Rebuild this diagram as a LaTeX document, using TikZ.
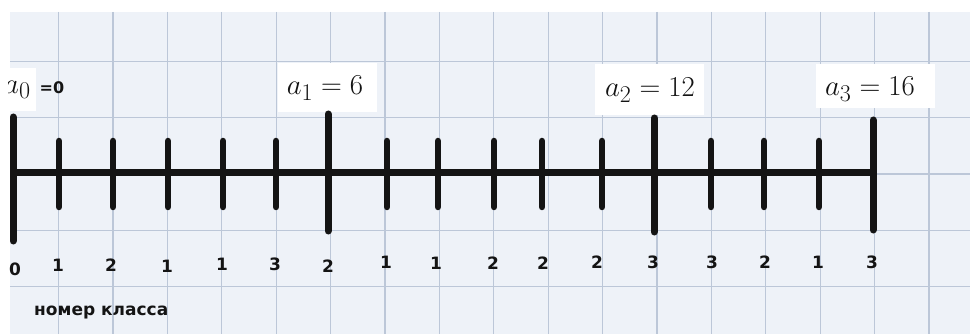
\documentclass[tikz,border=0pt]{standalone}
\usepackage{graphicx}
\usepackage{fontspec}
\newfontfamily\lblfont{DejaVu Sans}
\definecolor{paper}{HTML}{EEF2F8}
\definecolor{gridc}{HTML}{BCC7D8}
\definecolor{ink}{HTML}{141414}
\newcommand{\mlab}[1]{\scalebox{1.16}{\fontsize{24.88}{25}\selectfont$#1$}}
\tikzset{
  gridline/.style={draw=gridc, line width=1.2pt},
  axisline/.style={draw=ink, line width=7pt},
  smalltick/.style={draw=ink, line width=6.5pt, line cap=round},
  bigtick/.style={draw=ink, line width=7pt, line cap=round},
  num/.style={font=\lblfont\bfseries\fontsize{17}{17}\selectfont, text=ink, inner sep=0pt},
  mlabel/.style={text=ink, inner sep=0pt},
}
\begin{document}
\begin{tikzpicture}[x=1pt,y=-1pt]
\useasboundingbox (0,0) rectangle (970,334);
\fill[white] (0,0) rectangle (970,334);
\fill[paper] (10,12) rectangle (970,334);
% grid
\foreach \k in {0,...,16} {
  \draw[gridline] ({58.5+54.4*\k},12) -- ({58.5+54.4*\k},334);
}
\foreach \k in {0,...,4} {
  \draw[gridline] (10,{61.5+56.3*\k}) -- (970,{61.5+56.3*\k});
}
% label boxes
\fill[white] (0,68) rectangle (36,111);
\fill[white] (278,63) rectangle (377,112);
\fill[white] (595,64) rectangle (704,115);
\fill[white] (816,64) rectangle (935,108);
\begin{scope}
\clip (8,60) rectangle (40,115);
\node[mlabel, anchor=west] (l0) at (4,90) {\mlab{a_0}};
\end{scope}
\node[num, font=\lblfont\bfseries\fontsize{16}{16}\selectfont] (e0) at (52,88) {=0};
\node[mlabel] (l1) at (325,88) {\mlab{a_1=6}};
\node[mlabel] (l2) at (650,90) {\mlab{a_2=12}};
\node[mlabel] (l3) at (870,89) {\mlab{a_3=16}};
% axis
\coordinate (s) at (10,173);
\coordinate (e) at (876,173);
\draw[axisline] (s) -- (e);
% small ticks
\foreach \x in {59,113,168,223,276,387,438,494,542,602,711,764,819} {
  \draw[smalltick] (\x,141) -- (\x,207);
}
% big ticks
\coordinate (t0a) at (13,117); \coordinate (t0b) at (13,241);
\coordinate (t1a) at (328,114); \coordinate (t1b) at (328,231);
\coordinate (t2a) at (654,118); \coordinate (t2b) at (654,232);
\coordinate (t3a) at (873,120); \coordinate (t3b) at (873,230);
\draw[bigtick] (t0a) -- (t0b);
\draw[bigtick] (t1a) -- (t1b);
\draw[bigtick] (t2a) -- (t2b);
\draw[bigtick] (t3a) -- (t3b);
% numbers
\node[num] (n0) at (15,269) {0};
\node[num] (n1) at (58,265) {1};
\node[num] (n2) at (111,265) {2};
\node[num] (n3) at (167,266) {1};
\node[num] (n4) at (222,264) {1};
\node[num] (n5) at (275,264) {3};
\node[num] (n6) at (328,266) {2};
\node[num] (n7) at (386,262) {1};
\node[num] (n8) at (436,263) {1};
\node[num] (n9) at (493,263) {2};
\node[num] (n10) at (543,263) {2};
\node[num] (n11) at (597,262) {2};
\node[num] (n12) at (653,262) {3};
\node[num] (n13) at (712,262) {3};
\node[num] (n14) at (765,262) {2};
\node[num] (n15) at (818,262) {1};
\node[num] (n16) at (872,262) {3};
\node[num, anchor=west] (cap) at (34,313) {номер класса};
\end{tikzpicture}
\end{document}
